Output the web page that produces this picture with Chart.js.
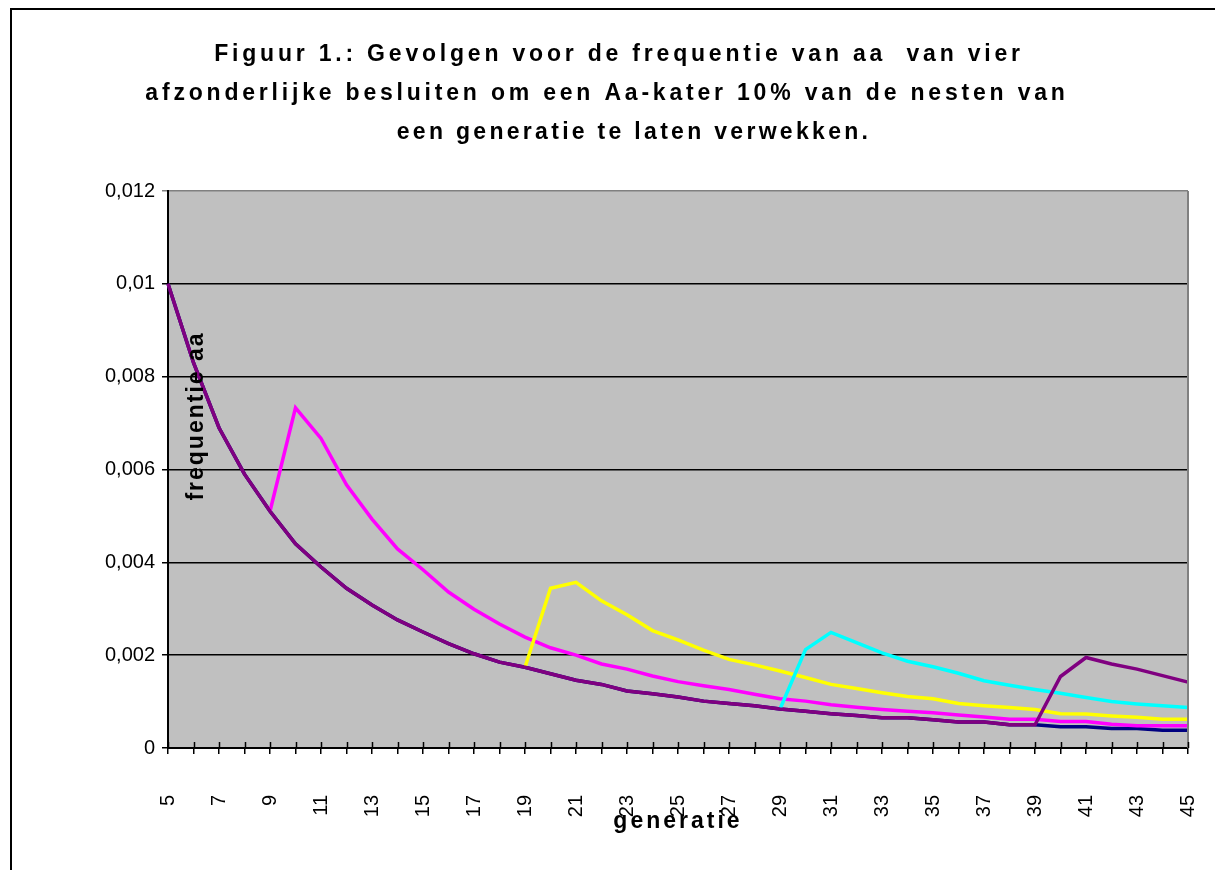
<!DOCTYPE html>
<html>
<head>
<meta charset="utf-8">
<script src="https://cdn.jsdelivr.net/npm/chart.js@4"></script>
<style>
  html, body { margin: 0; padding: 0; background: #fff; }
  canvas { display: block; }
</style>
</head>
<body>
<canvas id="chart" width="1215" height="870"></canvas>
<script>
/* ---------- data ---------- */
const generaties = [5, 6, 7, 8, 9, 10, 11, 12, 13, 14, 15, 16, 17, 18, 19, 20, 21, 22, 23, 24, 25,
  26, 27, 28, 29, 30, 31, 32, 33, 34, 35, 36, 37, 38, 39, 40, 41, 42, 43, 44, 45];

// no intervention
const zonder = [0.0100, 0.0083, 0.0069, 0.0059, 0.0051, 0.0044, 0.0039, 0.00344, 0.00308, 0.00276,
  0.0025, 0.00225, 0.00203, 0.00185, 0.00174, 0.0016, 0.00146, 0.00137, 0.00123, 0.00117,
  0.0011, 0.00101, 0.00096, 0.00091, 0.00084, 0.00079, 0.00074, 0.0007, 0.00065, 0.00065,
  0.00061, 0.00056, 0.00056, 0.0005, 0.0005, 0.00046, 0.00046, 0.00042, 0.00042, 0.00038, 0.00038];

// Aa-kater in generation 10
const kater10 = [null, null, null, null, 0.0051, 0.00733, 0.00667, 0.00567, 0.00493, 0.00429,
  0.00384, 0.00336, 0.00299, 0.00267, 0.00239, 0.00216, 0.002, 0.00181, 0.0017, 0.00155,
  0.00143, 0.00134, 0.00126, 0.00116, 0.00106, 0.00101, 0.00093, 0.00088, 0.00083, 0.00079,
  0.00076, 0.00071, 0.00067, 0.00062, 0.00062, 0.00057, 0.00057, 0.00051, 0.00048, 0.00048, 0.00048];

// Aa-kater in generation 20
const kater20 = [null, null, null, null, null, null, null, null, null, null,
  null, null, null, null, 0.00174, 0.00344, 0.00357, 0.00317, 0.00287, 0.00253,
  0.00233, 0.00211, 0.00191, 0.00179, 0.00166, 0.00152, 0.00137, 0.00128, 0.00119, 0.00111,
  0.00106, 0.00096, 0.00091, 0.00087, 0.00083, 0.00074, 0.00073, 0.00069, 0.00066, 0.00062, 0.00062];

// Aa-kater in generation 30
const kater30 = [null, null, null, null, null, null, null, null, null, null,
  null, null, null, null, null, null, null, null, null, null,
  null, null, null, null, 0.00084, 0.00212, 0.00249, 0.00227, 0.00205, 0.00187,
  0.00175, 0.00161, 0.00145, 0.00135, 0.00126, 0.00118, 0.00109, 0.001, 0.00095, 0.00091, 0.00087];

// Aa-kater in generation 40
const kater40 = [0.0100, 0.0083, 0.0069, 0.0059, 0.0051, 0.0044, 0.0039, 0.00344, 0.00308, 0.00276,
  0.0025, 0.00225, 0.00203, 0.00185, 0.00174, 0.0016, 0.00146, 0.00137, 0.00123, 0.00117,
  0.0011, 0.00101, 0.00096, 0.00091, 0.00084, 0.00079, 0.00074, 0.0007, 0.00065, 0.00065,
  0.00061, 0.00056, 0.00056, 0.0005, 0.0005, 0.00154, 0.00195, 0.00181, 0.0017, 0.00156, 0.00142];

const yTickLabels = ['0', '0,002', '0,004', '0,006', '0,008', '0,01', '0,012'];

const titleLines = [
  'Figuur 1.: Gevolgen voor de frequentie van aa  van vier',
  'afzonderlijke besluiten om een Aa-kater 10% van de nesten van',
  'een generatie te laten verwekken.'
];
const yTitle = 'frequentie aa';
const xTitle = 'generatie';

/* ---------- drawing helpers ---------- */
const FONT = '"Liberation Sans", Arial, sans-serif';

const decor = {
  id: 'decor',
  beforeDraw(chart) {
    const { ctx, chartArea: a } = chart;
    ctx.save();
    ctx.fillStyle = '#fff';
    ctx.fillRect(0, 0, chart.width, chart.height);
    ctx.fillStyle = '#c0c0c0';
    ctx.fillRect(a.left, a.top, a.right - a.left, a.bottom - a.top);
    ctx.restore();
  },
  afterDraw(chart) {
    const { ctx, chartArea: a } = chart;
    const xs = chart.scales.x;
    ctx.save();

    // grey right edge of the plot
    ctx.strokeStyle = '#808080';
    ctx.lineWidth = 2;
    ctx.beginPath();
    ctx.moveTo(a.right, a.top);
    ctx.lineTo(a.right, a.bottom);
    ctx.stroke();

    // upper half of the crossing category ticks
    ctx.strokeStyle = '#000';
    ctx.lineWidth = 1.5;
    ctx.beginPath();
    for (let i = 0; i < generaties.length; i++) {
      const px = Math.round(xs.getPixelForTick(i)) + 0.5;
      ctx.moveTo(px, a.bottom - 6);
      ctx.lineTo(px, a.bottom);
    }
    ctx.stroke();

    // frame round the whole chart
    ctx.lineWidth = 2;
    ctx.beginPath();
    ctx.moveTo(11, chart.height);
    ctx.lineTo(11, 9);
    ctx.lineTo(chart.width, 9);
    ctx.stroke();

    // titles
    ctx.fillStyle = '#000';
    ctx.font = 'bold 23px ' + FONT;
    ctx.letterSpacing = '3.8px';
    ctx.textAlign = 'center';
    ctx.textBaseline = 'middle';
    const centers = [619, 607, 634];
    titleLines.forEach((t, i) => {
      ctx.letterSpacing = i === 2 ? '3.3px' : '3.8px';
      ctx.fillText(t, centers[i], 55 + i * 39);
    });

    ctx.letterSpacing = '3px';
    ctx.fillText(xTitle, (a.left + a.right) / 2, 822);

    ctx.translate(197, 416);
    ctx.rotate(-Math.PI / 2);
    ctx.letterSpacing = '2px';
    ctx.fillText(yTitle, 0, 0);
    ctx.restore();
  }
};

/* ---------- chart ---------- */
const line = (data, color) => ({
  data,
  borderColor: color,
  backgroundColor: color,
  borderWidth: 3.5,
  pointRadius: 0,
  tension: 0,
  spanGaps: false
});

new Chart(document.getElementById('chart'), {
  type: 'line',
  data: {
    labels: generaties,
    // first dataset is drawn on top
    datasets: [
      line(kater40, '#800080'),
      line(kater30, '#00ffff'),
      line(kater20, '#ffff00'),
      line(kater10, '#ff00ff'),
      line(zonder, '#000080')
    ]
  },
  options: {
    responsive: false,
    animation: false,
    devicePixelRatio: 1,
    layout: { padding: { top: 191, right: 27, bottom: 0, left: 0 } },
    plugins: {
      legend: { display: false },
      title: { display: false },
      tooltip: { enabled: false }
    },
    scales: {
      x: {
        type: 'category',
        offset: false,
        afterFit: s => { s.height = 122; s.paddingLeft = 0; s.paddingRight = 0; },
        border: { display: true, color: '#000', width: 2 },
        grid: { drawOnChartArea: false, drawTicks: true, tickLength: 6, color: '#000', lineWidth: 1.5 },
        ticks: {
          autoSkip: false,
          minRotation: 90,
          maxRotation: 90,
          padding: 41,
          color: '#000',
          font: { family: FONT, size: 20 },
          callback: (v, i) => (i % 2 === 0 ? String(generaties[i]) : '')
        }
      },
      y: {
        min: 0,
        max: 0.012,
        afterFit: s => { s.width = 168; },
        border: { display: true, color: '#000', width: 2 },
        grid: {
          color: c => (c.index === 6 ? '#808080' : '#000'),
          lineWidth: 1.5,
          tickLength: 6
        },
        ticks: {
          stepSize: 0.002,
          padding: 7,
          color: '#000',
          font: { family: FONT, size: 20 },
          callback: (v, i) => yTickLabels[i]
        }
      }
    }
  },
  plugins: [decor]
});
</script>
</body>
</html>
